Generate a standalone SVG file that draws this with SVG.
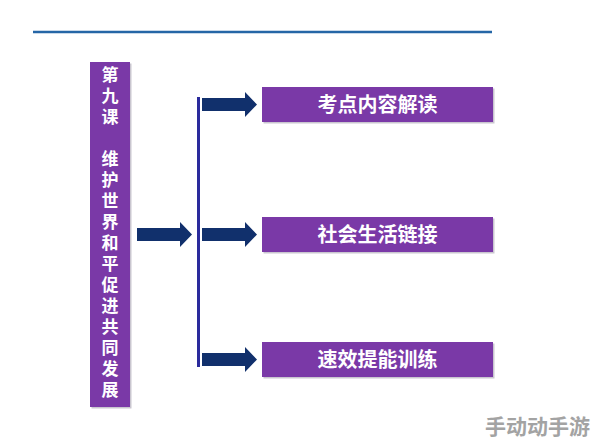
<svg xmlns="http://www.w3.org/2000/svg" width="594" height="444" viewBox="0 0 594 444">
<style>
.box{fill:#7a39a7}
.shadow{fill:#c9c6cf}
.arrow{fill:#11306c}
.t{font-family:"Noto Sans CJK SC","Noto Sans",sans-serif;font-weight:bold;fill:#ffffff;text-anchor:middle}
.lt{font-size:17px;writing-mode:vertical-rl;text-anchor:start;letter-spacing:4px}
.bt{font-size:20px}
.wm{font-family:"Noto Sans CJK SC",sans-serif;font-weight:bold;font-size:21px;fill:#a3a3a3}
</style>
<defs>
<path id="arr" d="M0,-6.5 H43 V-12.5 L55,0 L43,12.5 V6.5 H0 Z"/>
</defs>
<rect width="594" height="444" fill="#ffffff"/>
<line x1="33" y1="32" x2="492" y2="32" stroke="#2566a6" stroke-width="2.5"/>

<g id="title">
<rect class="shadow" x="91.5" y="63.5" width="40" height="345"/>
<rect class="box" x="90" y="62" width="40" height="345"/>
<text class="t lt" x="110" y="66.5">第九课　维护世界和平促进共同发展</text>
</g>

<g id="connectors">
<path class="arrow" d="M137,228 H180 V222 L192,234.5 L180,247 V241 H137 Z"/>
<line x1="198.5" y1="97" x2="198.5" y2="367" stroke="#2a2a9c" stroke-width="3"/>
<use href="#arr" class="arrow" x="202" y="104.5"/>
<use href="#arr" class="arrow" x="202" y="234.5"/>
<use href="#arr" class="arrow" x="202" y="359.5"/>
</g>

<g id="box1">
<rect class="shadow" x="263.5" y="88.5" width="231" height="35"/>
<rect class="box" x="262" y="87" width="231" height="35"/>
<text class="t bt" x="377.5" y="112">考点内容解读</text>
</g>
<g id="box2">
<rect class="shadow" x="263.5" y="218.5" width="231" height="35"/>
<rect class="box" x="262" y="217" width="231" height="35"/>
<text class="t bt" x="377.5" y="242">社会生活链接</text>
</g>
<g id="box3">
<rect class="shadow" x="263.5" y="343.5" width="231" height="35"/>
<rect class="box" x="262" y="342" width="231" height="35"/>
<text class="t bt" x="377.5" y="367">速效提能训练</text>
</g>

<text class="wm" x="485" y="434">手动动手游</text>
</svg>
